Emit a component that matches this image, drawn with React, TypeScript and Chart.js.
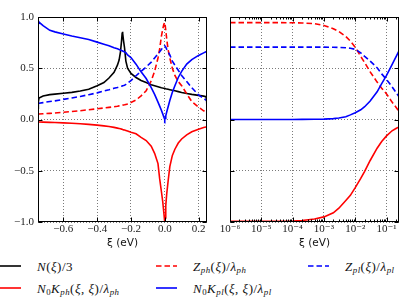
import React, { useEffect, useRef } from "react";
import { Chart, registerables } from "chart.js";
Chart.register(...registerables);

// ---------- Left panel data (linear xi, eV) ----------
const leftXi = [-0.75, -0.748, -0.744, -0.72, -0.68, -0.65, -0.6, -0.55, -0.5, -0.45, -0.4, -0.36, -0.33, -0.3, -0.28, -0.27, -0.262, -0.256, -0.252, -0.25, -0.248, -0.244, -0.238, -0.23, -0.22, -0.2, -0.17, -0.14, -0.11, -0.08, -0.06, -0.04, -0.03, -0.02, -0.012, -0.006, -0.002, 0, 0.002, 0.006, 0.012, 0.02, 0.03, 0.045, 0.06, 0.08, 0.1, 0.13, 0.16, 0.2, 0.23, 0.244, 0.248, 0.25];
const leftN = [0.11, 0.17, 0.21, 0.23, 0.243, 0.248, 0.256, 0.265, 0.278, 0.295, 0.33, 0.36, 0.405, 0.46, 0.53, 0.58, 0.66, 0.76, 0.84, 0.855, 0.84, 0.77, 0.7, 0.57, 0.5, 0.45, 0.41, 0.38, 0.36, 0.34, 0.33, 0.32, 0.315, 0.31, 0.307, 0.305, 0.304, 0.303, 0.302, 0.3, 0.298, 0.295, 0.291, 0.285, 0.28, 0.272, 0.264, 0.254, 0.245, 0.235, 0.228, 0.222, 0.18, 0.11];
const leftKph = [-0.023, -0.023, -0.024, -0.026, -0.028, -0.03, -0.033, -0.037, -0.042, -0.048, -0.055, -0.062, -0.068, -0.077, -0.084, -0.088, -0.091, -0.094, -0.096, -0.097, -0.098, -0.1, -0.103, -0.107, -0.113, -0.125, -0.14, -0.175, -0.205, -0.26, -0.33, -0.43, -0.58, -0.7, -0.8, -0.9, -0.97, -1.0, -0.96, -0.84, -0.72, -0.6, -0.46, -0.35, -0.29, -0.23, -0.19, -0.15, -0.12, -0.095, -0.078, -0.073, -0.072, -0.071];
const leftZph = [0.052, 0.052, 0.053, 0.056, 0.06, 0.064, 0.07, 0.078, 0.086, 0.095, 0.104, 0.112, 0.118, 0.125, 0.13, 0.133, 0.135, 0.137, 0.138, 0.139, 0.14, 0.141, 0.143, 0.147, 0.152, 0.165, 0.19, 0.23, 0.28, 0.378, 0.47, 0.6, 0.69, 0.81, 0.88, 0.925, 0.943, 0.947, 0.93, 0.87, 0.78, 0.68, 0.6, 0.5, 0.43, 0.37, 0.33, 0.25, 0.175, 0.12, 0.085, 0.072, 0.07, 0.068];
const leftKpl = [0.967, 0.96, 0.95, 0.915, 0.87, 0.855, 0.835, 0.815, 0.797, 0.78, 0.755, 0.735, 0.72, 0.7, 0.69, 0.683, 0.677, 0.673, 0.671, 0.67, 0.668, 0.665, 0.66, 0.652, 0.63, 0.605, 0.54, 0.465, 0.4, 0.31, 0.245, 0.17, 0.13, 0.09, 0.055, 0.028, 0.01, 0, 0.01, 0.035, 0.075, 0.125, 0.185, 0.265, 0.33, 0.41, 0.47, 0.54, 0.585, 0.625, 0.65, 0.66, 0.665, 0.667];
const leftZpl = [0.157, 0.157, 0.158, 0.165, 0.175, 0.182, 0.196, 0.21, 0.225, 0.242, 0.26, 0.278, 0.29, 0.304, 0.313, 0.318, 0.322, 0.325, 0.327, 0.328, 0.329, 0.331, 0.335, 0.342, 0.355, 0.38, 0.427, 0.47, 0.512, 0.56, 0.6, 0.64, 0.66, 0.683, 0.7, 0.712, 0.718, 0.72, 0.716, 0.705, 0.685, 0.66, 0.63, 0.57, 0.53, 0.48, 0.43, 0.37, 0.31, 0.24, 0.205, 0.19, 0.187, 0.185];

// ---------- Right panel data (log xi, eV) ----------
const rightXi = [1e-6, 3e-6, 1e-5, 3e-5, 1e-4, 2e-4, 5e-4, 1e-3, 2e-3, 3e-3, 5e-3, 7e-3, 1e-2, 1.5e-2, 2e-2, 3e-2, 5e-2, 7e-2, 0.1, 0.15, 0.2, 0.25];
const rightZph = [0.945, 0.945, 0.945, 0.945, 0.944, 0.942, 0.935, 0.918, 0.885, 0.858, 0.81, 0.765, 0.705, 0.615, 0.555, 0.465, 0.365, 0.305, 0.25, 0.17, 0.12, 0.08];
const rightZpl = [0.706, 0.706, 0.706, 0.706, 0.706, 0.706, 0.706, 0.706, 0.705, 0.703, 0.7, 0.695, 0.685, 0.65, 0.615, 0.57, 0.505, 0.445, 0.39, 0.32, 0.265, 0.222];
const rightKpl = [0, 0, 0, 0, 0, 0.001, 0.002, 0.004, 0.009, 0.015, 0.027, 0.045, 0.066, 0.095, 0.125, 0.18, 0.27, 0.35, 0.43, 0.535, 0.61, 0.67];
const rightKph = [-0.993, -0.993, -0.993, -0.992, -0.99, -0.985, -0.97, -0.95, -0.91, -0.865, -0.79, -0.74, -0.665, -0.575, -0.505, -0.4, -0.28, -0.215, -0.16, -0.11, -0.088, -0.072];

// ---------- Ticks ----------
const leftXTicks = [-0.6, -0.4, -0.2, 0, 0.2];
const yTicks = [-1, -0.5, 0, 0.5, 1];
const rightXTicks = [1e-6, 1e-5, 1e-4, 1e-3, 1e-2, 1e-1];

const RED = "#ff0000";
const BLUE = "#0000ff";
const BLACK = "#000000";
const DASH = [5.5, 3];
const LW = 1.6;

const SUP: Record<string, string> = { "-": "⁻", "0": "⁰", "1": "¹", "2": "²", "3": "³", "4": "⁴", "5": "⁵", "6": "⁶", "7": "⁷", "8": "⁸", "9": "⁹" };
const fmtLin = (v: number) => {
  const s = v.toFixed(1);
  return s.startsWith("-") ? "\u2212" + s.slice(1) : s;
};
const fmtLog = (v: number) => {
  const e = String(Math.round(Math.log10(v)));
  return "10" + e.split("").map((c) => SUP[c] ?? c).join("");
};

const decorPlugin = {
  id: "decor",
  afterDatasetsDraw(chart: any) {
    const { ctx, chartArea: a } = chart;
    const xs = chart.scales.x;
    const ys = chart.scales.y;
    const L = Math.round(a.left) + 0.5;
    const R = Math.round(a.right) - 0.5;
    const T = Math.round(a.top) + 0.5;
    const B = Math.round(a.bottom) - 0.5;
    ctx.save();
    ctx.setLineDash([]);
    ctx.strokeStyle = "#000";
    ctx.lineWidth = 1;
    ctx.beginPath();
    const major = 4;
    const minor = 2;
    xs.ticks.forEach((t: any) => {
      const p = Math.round(xs.getPixelForValue(t.value)) + 0.5;
      ctx.moveTo(p, B); ctx.lineTo(p, B - major);
      ctx.moveTo(p, T); ctx.lineTo(p, T + major);
    });
    ys.ticks.forEach((t: any) => {
      const p = Math.round(ys.getPixelForValue(t.value)) + 0.5;
      ctx.moveTo(L, p); ctx.lineTo(L + major, p);
      ctx.moveTo(R, p); ctx.lineTo(R - major, p);
    });
    if (xs.type === "logarithmic") {
      for (let e = -6; e <= -1; e++) {
        for (let k = 2; k <= 9; k++) {
          const v = k * Math.pow(10, e);
          if (v > xs.max) continue;
          const p = Math.round(xs.getPixelForValue(v)) + 0.5;
          ctx.moveTo(p, B); ctx.lineTo(p, B - minor);
          ctx.moveTo(p, T); ctx.lineTo(p, T + minor);
        }
      }
    }
    ctx.stroke();
    ctx.strokeRect(L, T, R - L, B - T);
    ctx.restore();
  },
};

const tickFont = { family: "'Liberation Serif', 'DejaVu Serif', serif", size: 11 };
const titleFont = { family: "'DejaVu Sans', sans-serif", size: 10.5 };
const gridCommon = { color: "#7a7a7a", lineWidth: 1, drawTicks: false };
const borderCommon = { display: false, dash: [1, 2] };

function mkDatasets(xs: number[], series: { d: number[]; c: string; dash: boolean; label: string }[]) {
  return series
    .map((s) => ({
      label: s.label,
      data: xs.map((x, i) => ({ x, y: s.d[i] })),
      borderColor: s.c,
      borderWidth: LW,
      borderDash: s.dash ? DASH : [],
      pointRadius: 0,
      fill: false,
      tension: 0,
    }))
    .reverse();
}

function LeftChart() {
  const ref = useRef<HTMLCanvasElement>(null);
  useEffect(() => {
    const chart = new Chart(ref.current!, {
      type: "line",
      data: {
        datasets: mkDatasets(leftXi, [
          { d: leftN, c: BLACK, dash: false, label: "N/3" },
          { d: leftKph, c: RED, dash: false, label: "N0Kph" },
          { d: leftZph, c: RED, dash: true, label: "Zph" },
          { d: leftKpl, c: BLUE, dash: false, label: "N0Kpl" },
          { d: leftZpl, c: BLUE, dash: true, label: "Zpl" },
        ]) as any,
      },
      options: {
        animation: false,
        responsive: false,
        layout: { padding: { top: 17, right: 8, left: 0, bottom: 0 } },
        plugins: { legend: { display: false }, tooltip: { enabled: false } },
        scales: {
          x: {
            type: "linear",
            min: -0.75,
            max: 0.25,
            afterBuildTicks: (s: any) => { s.ticks = leftXTicks.map((value) => ({ value })); },
            afterFit: (s: any) => { s.height = 28; },
            ticks: { font: tickFont, color: "#222", padding: 1, callback: (v: any) => fmtLin(Number(v)), maxRotation: 0 },
            grid: gridCommon,
            border: borderCommon,
            title: { display: true, text: "ξ (eV)", font: titleFont, color: "#111", padding: 0 },
          },
          y: {
            type: "linear",
            min: -1,
            max: 1,
            afterBuildTicks: (s: any) => { s.ticks = yTicks.map((value) => ({ value })); },
            afterFit: (s: any) => { s.width = 38; },
            ticks: { font: tickFont, color: "#222", padding: 4, callback: (v: any) => fmtLin(Number(v)) },
            grid: gridCommon,
            border: borderCommon,
          },
        },
      },
      plugins: [decorPlugin],
    });
    return () => chart.destroy();
  }, []);
  return <canvas ref={ref} width={215} height={250} style={{ position: "absolute", left: 0, top: 0, width: 215, height: 250 }} />;
}

function RightChart() {
  const ref = useRef<HTMLCanvasElement>(null);
  useEffect(() => {
    const chart = new Chart(ref.current!, {
      type: "line",
      data: {
        datasets: mkDatasets(rightXi, [
          { d: rightKph, c: RED, dash: false, label: "N0Kph" },
          { d: rightZph, c: RED, dash: true, label: "Zph" },
          { d: rightKpl, c: BLUE, dash: false, label: "N0Kpl" },
          { d: rightZpl, c: BLUE, dash: true, label: "Zpl" },
        ]) as any,
      },
      options: {
        animation: false,
        responsive: false,
        layout: { padding: { top: 17, right: 12, left: 15, bottom: 0 } },
        plugins: { legend: { display: false }, tooltip: { enabled: false } },
        scales: {
          x: {
            type: "logarithmic",
            min: 1e-6,
            max: 0.25,
            afterBuildTicks: (s: any) => { s.ticks = rightXTicks.map((value) => ({ value })); },
            afterFit: (s: any) => { s.height = 28; },
            ticks: { font: tickFont, color: "#222", padding: 1, callback: (v: any) => fmtLog(Number(v)), maxRotation: 0, autoSkip: false },
            grid: gridCommon,
            border: borderCommon,
            title: { display: true, text: "ξ (eV)", font: titleFont, color: "#111", padding: 0 },
          },
          y: {
            type: "linear",
            min: -1,
            max: 1,
            afterBuildTicks: (s: any) => { s.ticks = yTicks.map((value) => ({ value })); },
            afterFit: (s: any) => { s.width = 0; },
            ticks: { display: false },
            grid: gridCommon,
            border: borderCommon,
          },
        },
      },
      plugins: [decorPlugin],
    });
    return () => chart.destroy();
  }, []);
  return <canvas ref={ref} width={196} height={250} style={{ position: "absolute", left: 215, top: 0, width: 196, height: 250 }} />;
}

const subStyle: React.CSSProperties = { fontSize: "0.68em", position: "relative", top: "0.32em" };
const Sub = ({ children }: { children: React.ReactNode }) => <span style={subStyle}>{children}</span>;
const I = ({ children }: { children: React.ReactNode }) => <i>{children}</i>;

function LegendItem({ x, y, color, dashed, children }: { x: number; y: number; color: string; dashed: boolean; children: React.ReactNode }) {
  return (
    <div style={{ position: "absolute", left: x, top: y - 9, height: 18, display: "flex", alignItems: "center", whiteSpace: "nowrap" }}>
      <svg width={22} height={6} style={{ display: "block" }}>
        <line x1={0} y1={3} x2={21} y2={3} stroke={color} strokeWidth={LW} strokeDasharray={dashed ? DASH.join(" ") : undefined} />
      </svg>
      <span style={{ marginLeft: 15, fontFamily: "'Liberation Serif', 'DejaVu Serif', serif", fontSize: 13, color: "#111", lineHeight: 1, letterSpacing: 0.5 }}>{children}</span>
    </div>
  );
}

export default function App() {
  return (
    <div style={{ position: "fixed", left: 0, top: 0, width: 411, height: 308, background: "#fff", overflow: "hidden" }}>
      <LeftChart />
      <RightChart />
      <LegendItem x={0} y={266} color={BLACK} dashed={false}>
        <I>N</I>(<I>ξ</I>)/3
      </LegendItem>
      <LegendItem x={0} y={288} color={RED} dashed={false}>
        <I>N</I><Sub>0</Sub><I>K</I><Sub><I>ph</I></Sub>(<I>ξ</I>, <I>ξ</I>)/<I>λ</I><Sub><I>ph</I></Sub>
      </LegendItem>
      <LegendItem x={156} y={266} color={RED} dashed={true}>
        <I>Z</I><Sub><I>ph</I></Sub>(<I>ξ</I>)/<I>λ</I><Sub><I>ph</I></Sub>
      </LegendItem>
      <LegendItem x={156} y={288} color={BLUE} dashed={false}>
        <I>N</I><Sub>0</Sub><I>K</I><Sub><I>pl</I></Sub>(<I>ξ</I>, <I>ξ</I>)/<I>λ</I><Sub><I>pl</I></Sub>
      </LegendItem>
      <LegendItem x={308} y={266} color={BLUE} dashed={true}>
        <I>Z</I><Sub><I>pl</I></Sub>(<I>ξ</I>)/<I>λ</I><Sub><I>pl</I></Sub>
      </LegendItem>
    </div>
  );
}
